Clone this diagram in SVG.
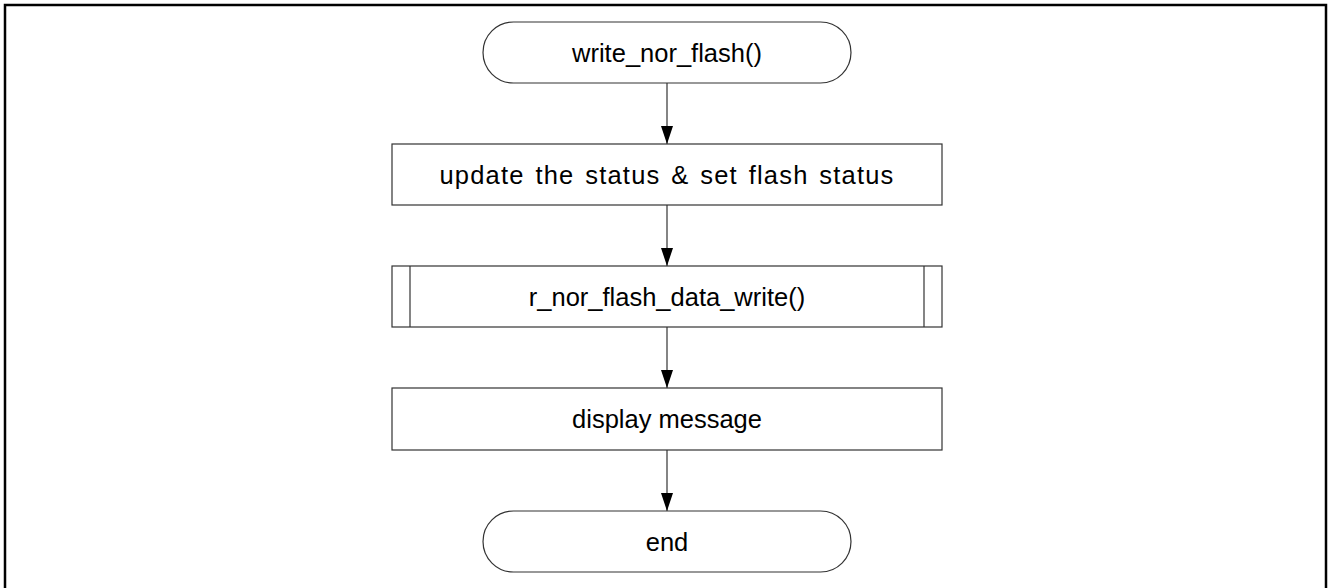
<svg xmlns="http://www.w3.org/2000/svg" width="1328" height="588" viewBox="0 0 1328 588">
  <style>
    .shape { fill: #ffffff; stroke: #333333; stroke-width: 1.2; }
    .label { font-family: "Liberation Sans", Arial, sans-serif; font-size: 25.5px; fill: #000000; text-anchor: middle; }
    .wide { word-spacing: 2.5px; letter-spacing: 1.2px; }
    .flow { stroke: #333333; stroke-width: 1.2; fill: none; marker-end: url(#arrow); }
  </style>
  <defs>
    <!-- solid triangular arrowhead, tip at the end of the line -->
    <marker id="arrow" markerUnits="userSpaceOnUse" markerWidth="18" markerHeight="12" refX="18" refY="6" orient="auto" viewBox="0 0 18 12">
      <path d="M0,0 L18,6 L0,12 Z" fill="#000000"/>
    </marker>
  </defs>

  <!-- frame -->
  <rect x="5" y="5" width="1321" height="600" fill="#ffffff" stroke="#000000" stroke-width="2.5"/>

  <!-- connectors -->
  <g id="connectors">
    <line class="flow" x1="667" y1="83" x2="667" y2="144"/>
    <line class="flow" x1="667" y1="205" x2="667" y2="266"/>
    <line class="flow" x1="667" y1="327" x2="667" y2="388"/>
    <line class="flow" x1="667" y1="450" x2="667" y2="511"/>
  </g>

  <g id="start">
    <rect class="shape" x="483" y="22" width="368" height="61" rx="30.5" ry="30.5"/>
    <text class="label" x="667" y="62">write_nor_flash()</text>
  </g>

  <g id="update-status">
    <rect class="shape" x="392" y="144" width="550" height="61"/>
    <text class="label wide" x="667" y="184">update the status &amp; set flash status</text>
  </g>

  <g id="data-write">
    <rect class="shape" x="392" y="266" width="550" height="61"/>
    <line class="shape" x1="410" y1="266" x2="410" y2="327"/>
    <line class="shape" x1="924" y1="266" x2="924" y2="327"/>
    <text class="label" x="667" y="306">r_nor_flash_data_write()</text>
  </g>

  <g id="display-message">
    <rect class="shape" x="392" y="388" width="550" height="62"/>
    <text class="label" x="667" y="428">display message</text>
  </g>

  <g id="end">
    <rect class="shape" x="483" y="511" width="368" height="61" rx="30.5" ry="30.5"/>
    <text class="label" x="667" y="551">end</text>
  </g>
</svg>
